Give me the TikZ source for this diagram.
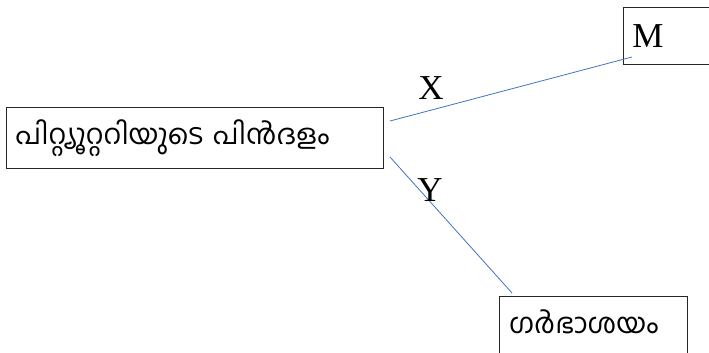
\documentclass[tikz,border=0pt]{standalone}
\usepackage{fontspec}
\setmainfont{Liberation Serif}
\newfontfamily\mlfont[Script=Malayalam]{Hind Kochi}
\definecolor{linkblue}{HTML}{4472C4}
\begin{document}
\begin{tikzpicture}[x=1pt,y=-1pt,
  box/.style={draw=black!85, line width=0.9pt, anchor=north west, inner xsep=9pt, inner ysep=0pt, align=left},
  link/.style={draw=linkblue, line width=0.8pt},
  lab/.style={font=\fontsize{35}{38}\selectfont},
  ml/.style={font=\mlfont\fontsize{28}{31}\selectfont}]
\useasboundingbox (0,0) rectangle (709,353);
\clip (0,0) rectangle (709,353);
\fill[white] (0,0) rectangle (709,353);

% boxes (the right and lower ones run past the page edge)
\node[box, ml, minimum width=377pt, minimum height=61pt, text width=359pt] (pit) at (6,107) {പിറ്റ്യൂറ്ററിയുടെ പിൻദളം};
\node[box, lab, minimum width=110pt, minimum height=57pt, text width=92pt] (m) at (623,7) {M};
\node[box, minimum width=188pt, minimum height=90pt] (ut) at (499,296) {};
\node[ml, anchor=west, inner sep=0pt] (uttext) at (509,322) {ഗർഭാശയം};

% connectors
\coordinate (a1) at (390,121);
\coordinate (a2) at (632,57);
\coordinate (b1) at (390,157);
\coordinate (b2) at (512,293);
\draw[link] (a1) -- (a2);
\draw[link] (b1) -- (b2);

% labels
\node[lab, inner sep=0pt] (xl) at (431,88) {X};
\node[lab, inner sep=0pt] (yl) at (430,190) {Y};
\end{tikzpicture}
\end{document}
